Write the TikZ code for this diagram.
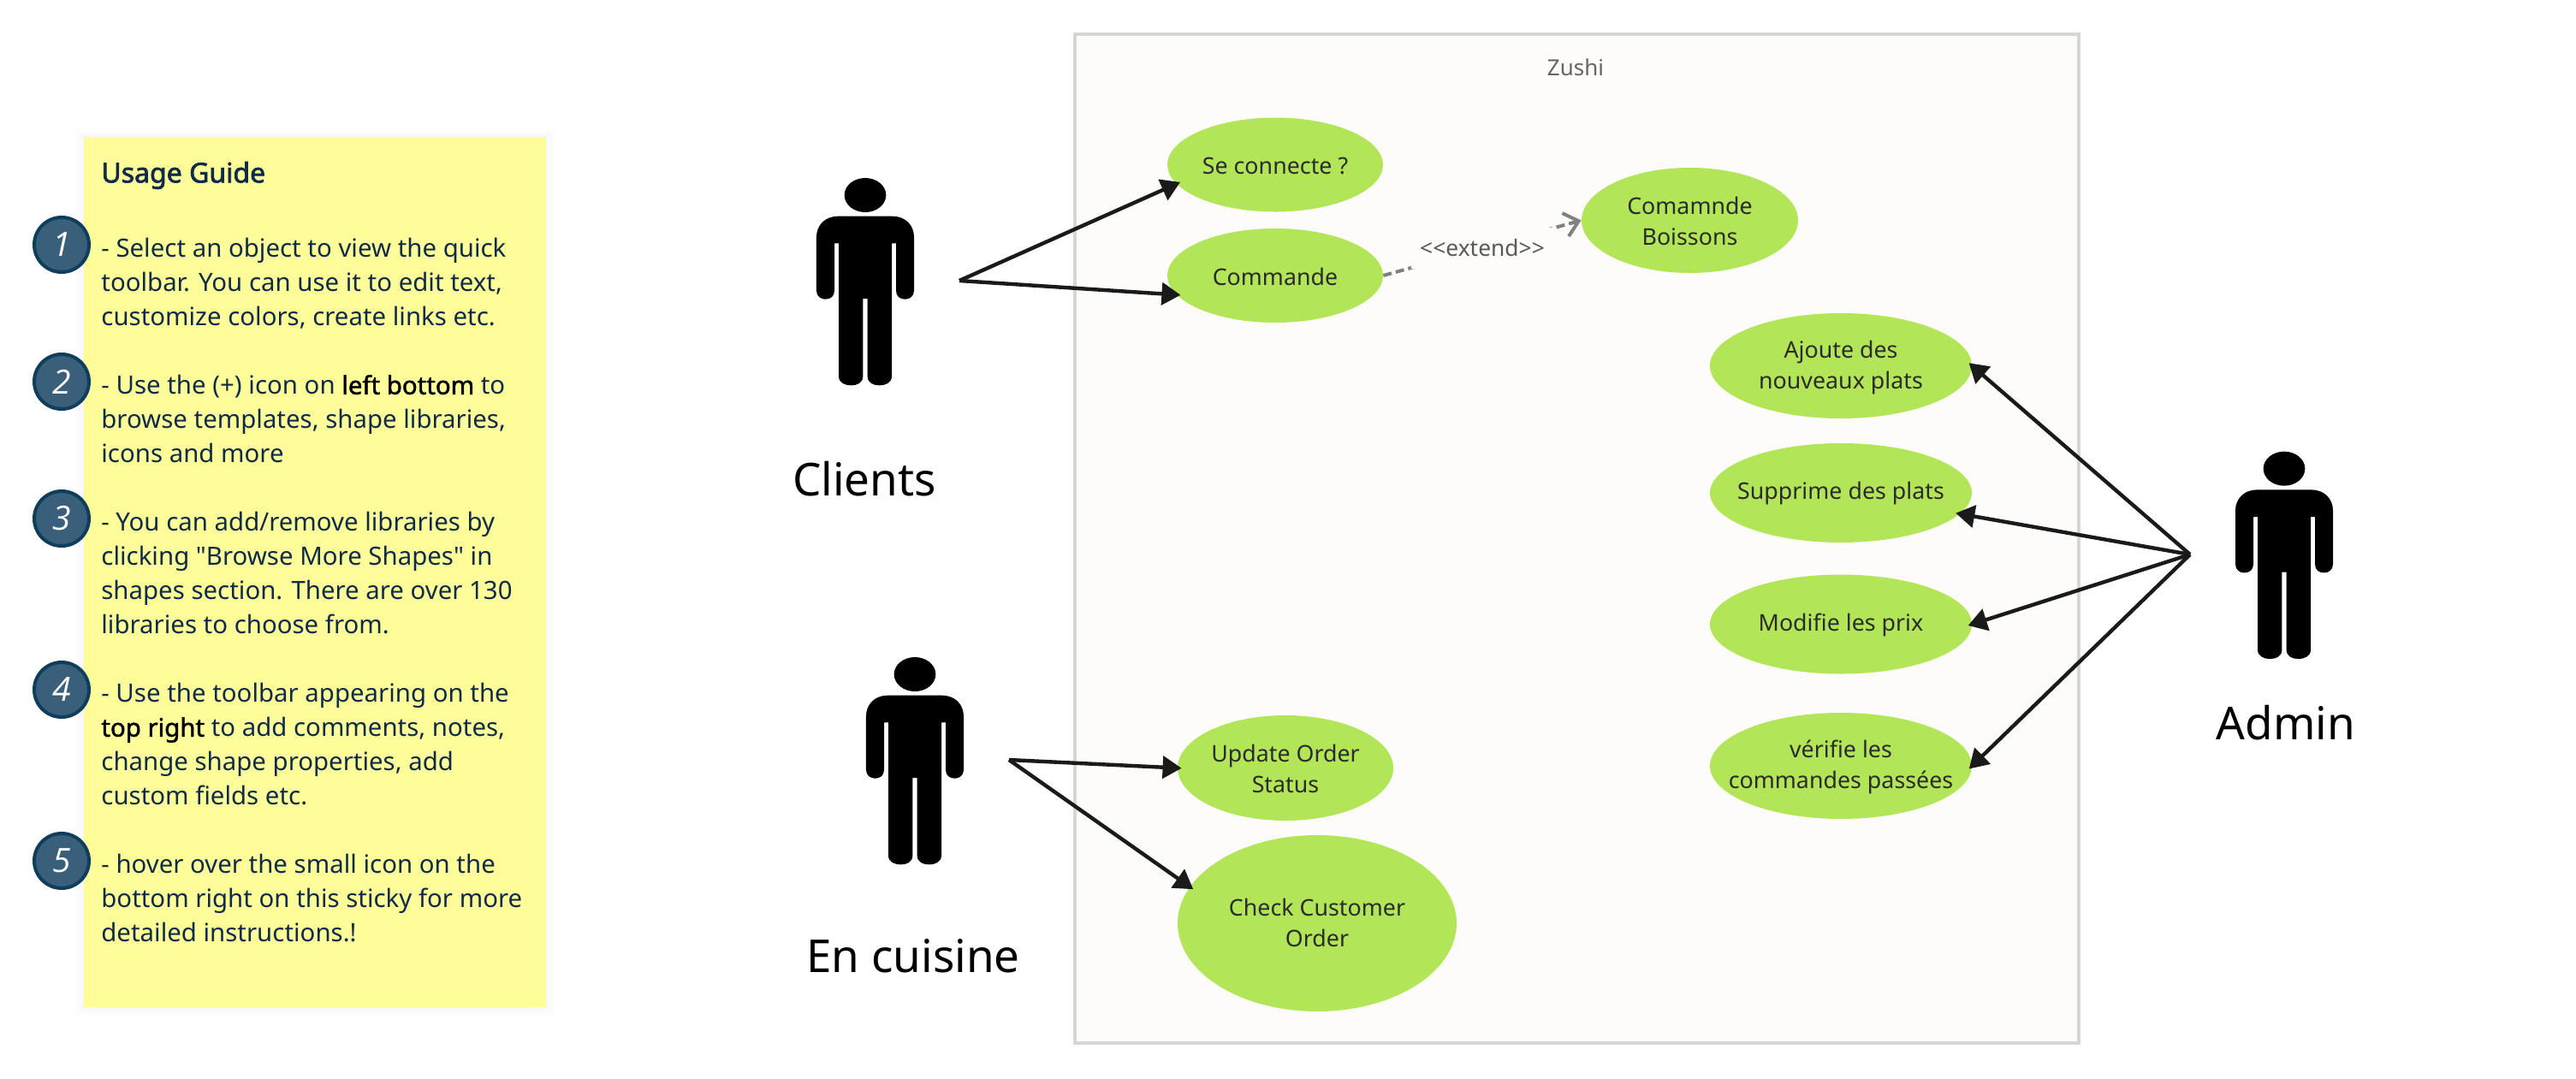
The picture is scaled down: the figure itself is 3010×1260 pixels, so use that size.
\documentclass[tikz,border=0pt]{standalone}
\usepackage{fontspec}
\setmainfont{Noto Sans}
\newfontfamily\rawfont{Noto Sans}
\newfontfamily\heavyfont{Noto Sans}[FakeBold=1.6]
\newfontfamily\titlefont{Noto Sans}[FakeBold=2.2]
\newfontfamily\numfont{Open Sans}
\usetikzlibrary{arrows.meta,shapes.geometric}
\definecolor{stickyfill}{HTML}{FFFD99}
\definecolor{inktext}{HTML}{0F2B46}
\definecolor{badgefill}{HTML}{3A5F7A}
\definecolor{badgeline}{HTML}{0F3D5C}
\definecolor{boxfill}{HTML}{FDFCFA}
\definecolor{boxline}{HTML}{D6D6D6}
\definecolor{usefill}{HTML}{B2E557}
\definecolor{wire}{HTML}{1A1A1A}
\definecolor{casetextc}{HTML}{2B2B2B}
\newcommand{\bd}[1]{\textcolor{black}{\heavyfont #1}}
\tikzset{
  x=0.5pt,y=-0.5pt,
  casetext/.style={align=center,inner sep=0pt,text=casetextc,yshift=-0.5pt,font=\rawfont\fontsize{13.4}{18}\selectfont},
  usecase/.style={ellipse,fill=usefill,draw=none,inner sep=0pt},
  badge/.style={circle,draw=badgeline,line width=2pt,fill=badgefill,minimum size=32pt,inner sep=0pt,text=white,font=\numfont\itshape\fontsize{19.5}{20}\selectfont},
  actorname/.style={font=\rawfont\fontsize{26.5}{32}\selectfont,text=black,inner sep=0pt},
  assoc/.style={draw=wire,line width=2.2pt,line join=round,shorten >=-2.5pt,-{Triangle[length=11pt,width=13pt]}},
  guide/.style={align=left,text=inktext,inner sep=0pt,font=\rawfont\fontsize{14.7}{20}\selectfont},
}
\newcommand{\personshape}[2]{%
  \begin{scope}[shift={(#1,#2)},x=0.1667pt,y=-0.1667pt]
    \fill[black] (0,60) ellipse [x radius=73*0.1667pt,y radius=60*0.1667pt];
    \fill[black] (-95,134) -- (95,134)
      .. controls (140,134) and (171,165) .. (171,207)
      -- (171,395) .. controls (171,415) and (155,425) .. (140,425)
      .. controls (122,425) and (108,415) .. (108,395)
      -- (108,229) -- (93,229) -- (93,695)
      .. controls (93,718) and (70,727) .. (50,727)
      .. controls (28,727) and (8,718) .. (8,695)
      -- (8,423) -- (-8,423) -- (-8,695)
      .. controls (-8,718) and (-28,727) .. (-50,727)
      .. controls (-70,727) and (-93,718) .. (-93,695)
      -- (-93,229) -- (-108,229) -- (-108,395)
      .. controls (-108,415) and (-122,425) .. (-140,425)
      .. controls (-155,425) and (-171,415) .. (-171,395)
      -- (-171,207) .. controls (-171,165) and (-140,134) .. (-95,134) -- cycle;
  \end{scope}}
\begin{document}
\begin{tikzpicture}
\useasboundingbox (0,0) rectangle (3010,1260);
\fill[white] (0,0) rectangle (3010,1260);
% sticky
\foreach \g in {10,7,4,2}{\fill[black,opacity=0.008] (98-\g,160-\g) rectangle (638+\g,1177+\g);}
\fill[stickyfill] (98,160) rectangle (638,1177);
\node[guide,anchor=west,font=\titlefont\fontsize{16}{20}\selectfont] (title) at (118,205) {Usage Guide};
\node[guide,anchor=north west] (body) at (118,278) {%
- Select an object to view the quick\\
toolbar. You can use it to edit text,\\
customize colors, create links etc.\\
\strut\\
- Use the (+) icon on \bd{left bottom} to\\
browse templates, shape libraries,\\
icons and more\\
\strut\\
- You can add/remove libraries by\\
clicking "Browse More Shapes" in\\
shapes section. There are over 130\\
libraries to choose from.\\
\strut\\
- Use the toolbar appearing on the\\
\bd{top right} to add comments, notes,\\
change shape properties, add\\
custom fields etc.\\
\strut\\
- hover over the small icon on the\\
bottom right on this sticky for more\\
detailed instructions.!};
\node[badge] (b1) at (72,286) {1};
\node[badge] (b2) at (72,446) {2};
\node[badge] (b3) at (72,606) {3};
\node[badge] (b4) at (72,806) {4};
\node[badge] (b5) at (72,1006) {5};
% system box
\node[draw=boxline,fill=boxfill,line width=2pt,minimum width=586.5pt,minimum height=589.5pt,inner sep=0pt] (sys) at (1842.5,629.5) {};
\node[font=\rawfont\fontsize{13}{16}\selectfont,text=black!60,inner sep=0pt] (sysname) at (1841,79) {Zushi};
% use cases
\node[usecase,minimum width=126pt,minimum height=55pt,label={[casetext]center:{Se connecte ?}}] (se) at (1490,192.5) {};
\node[usecase,minimum width=126pt,minimum height=55pt,label={[casetext]center:{Commande}}] (cmd) at (1490,322) {};
\node[usecase,minimum width=126.5pt,minimum height=61.5pt,label={[casetext]center:{Comamnde\\Boissons}}] (boi) at (1974.5,257.5) {};
\node[usecase,minimum width=153pt,minimum height=61.5pt,label={[casetext,yshift=-0.5pt]center:{Ajoute des\\nouveaux plats}}] (aj) at (2151,427.5) {};
\node[usecase,minimum width=153pt,minimum height=58pt,label={[casetext]center:{Supprime des plats}}] (su) at (2151,576) {};
\node[usecase,minimum width=153pt,minimum height=58pt,label={[casetext]center:{Modifie les prix}}] (mo) at (2151,729.5) {};
\node[usecase,minimum width=153pt,minimum height=62pt,label={[casetext]center:{vérifie les\\commandes passées}}] (ve) at (2151,895) {};
\node[usecase,minimum width=126pt,minimum height=61.5pt,label={[casetext]center:{Update Order\\Status}}] (up) at (1502,897.5) {};
\node[usecase,minimum width=163pt,minimum height=103pt,label={[casetext,yshift=1pt]center:{Check Customer\\Order}}] (ch) at (1539,1079) {};
% actors
\personshape{1011}{208}
\personshape{1069}{768}
\personshape{2669}{527.67}
\node[actorname] (clients) at (1010,560) {Clients};
\node[actorname] (cuisine) at (1067,1117) {En cuisine};
\node[actorname] (admin) at (2671,845) {Admin};
\coordinate (cl) at (1121,328);
\coordinate (cu) at (1179,888);
\coordinate (ad) at (2559,648);
% connectors
\draw[assoc] (cl) -- (se.191);
\draw[assoc] (cl) -- (cmd.191);
\draw[assoc] (cu) -- (up.180);
\draw[assoc] (cu) -- (ch.164);
\draw[assoc] (ad) -- (aj.0);
\draw[assoc] (ad) -- (su.-10);
\draw[assoc] (ad) -- (mo.0);
\draw[assoc] (ad) -- (ve.0);
\draw[draw=gray,line width=2pt,dash pattern=on 5pt off 2.5pt,-{Straight Barb[length=8pt,width=14pt]}] (cmd.0) -- node[fill=boxfill,inner sep=0pt,font=\rawfont\fontsize{13.2}{15}\selectfont,text=black!65,minimum width=83pt,minimum height=24pt] (ext) {<<extend>>} (boi.180);
\end{tikzpicture}
\end{document}
